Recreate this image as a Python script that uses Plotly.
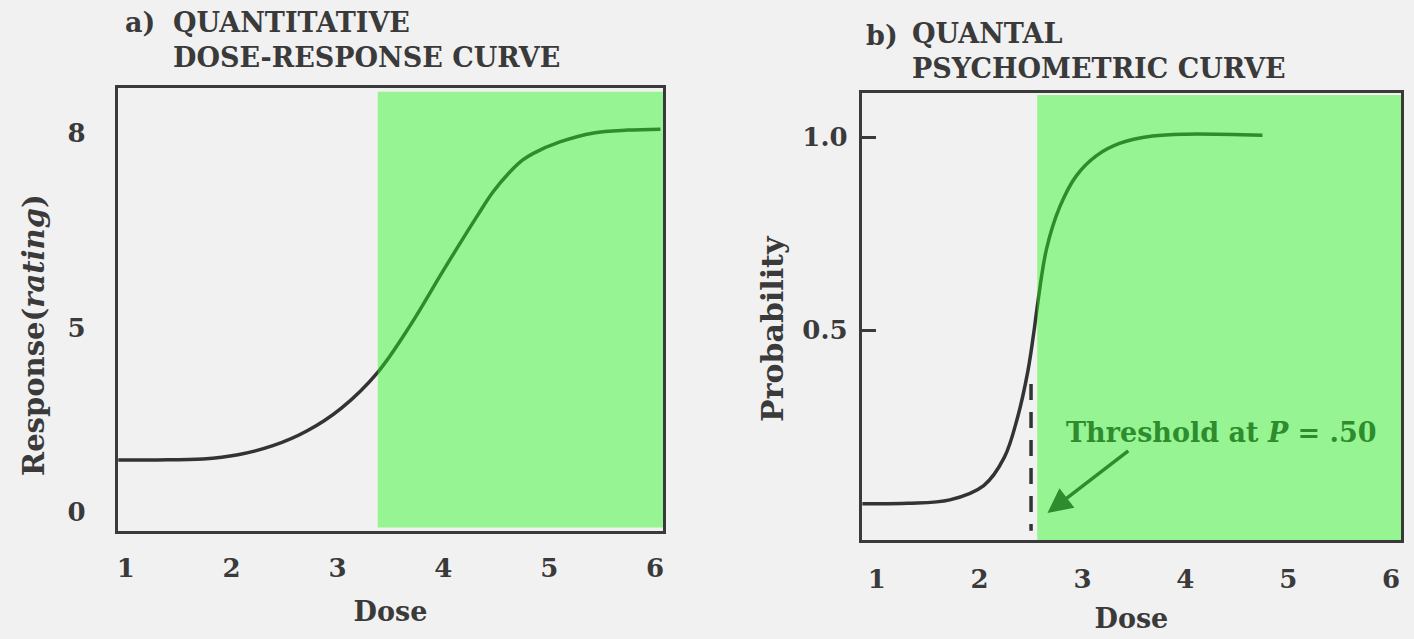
import plotly.graph_objects as go

# ---------------- data ----------------
# Panel a: quantitative dose-response curve (y in axis units; 0..8 span)
dose_a = [0.93, 1.3, 1.73, 2.06, 2.39, 2.71, 3.04, 3.38, 3.69, 4.00, 4.32, 4.47, 4.63, 4.75, 4.85, 5.10, 5.42, 5.74, 6.05]
resp_a = [1.10, 1.10, 1.12, 1.21, 1.40, 1.71, 2.20, 2.95, 3.95, 5.10, 6.25, 6.76, 7.18, 7.43, 7.57, 7.81, 8.00, 8.06, 8.08]

# Panel b: quantal psychometric curve
dose_b = [0.86, 1.3, 1.71, 2.04, 2.24, 2.37, 2.47, 2.53, 2.56, 2.65, 2.78, 2.94, 3.14, 3.36, 3.68, 4.01, 4.75]
prob_b = [0.05, 0.051, 0.06, 0.097, 0.17, 0.275, 0.395, 0.50, 0.56, 0.71, 0.82, 0.90, 0.953, 0.984, 1.003, 1.008, 1.005]

threshold_dose = 2.5
threshold_dash_p = [0.36, -0.02]

shade_start_a = 3.38
shade_start_b = 2.56

xticks = [1, 2, 3, 4, 5, 6]
yticks_a_pos = [0, 3.88, 8]
yticks_a_text = ["0", "5", "8"]
yticks_b_pos = [0.5, 1.0]
yticks_b_text = ["0.5", "1.0"]

arrow_head = (2.66, 0.026)
arrow_tail = (3.46, 0.19)

# ---------------- style ----------------
FONT = "DejaVu Serif"
INK = "#3a3a3a"
BG = "#f1f1f1"
GREEN_TXT = "#2e8c2e"

fig = go.Figure()

fig.add_trace(go.Scatter(x=dose_a, y=resp_a, mode="lines", xaxis="x", yaxis="y",
                         line=dict(color="#333333", width=3.5, shape="spline"),
                         showlegend=False, hoverinfo="skip"))
fig.add_trace(go.Scatter(x=dose_b, y=prob_b, mode="lines", xaxis="x2", yaxis="y2",
                         line=dict(color="#333333", width=3.5, shape="spline"),
                         showlegend=False, hoverinfo="skip"))
fig.add_trace(go.Scatter(x=[threshold_dose, threshold_dose], y=threshold_dash_p, mode="lines",
                         xaxis="x2", yaxis="y2",
                         line=dict(color="#333333", width=3.5, dash="16px,12px"),
                         showlegend=False, hoverinfo="skip"))

tick_font = dict(family=FONT, size=26, color=INK, weight="bold")
label_font = dict(family=FONT, size=27, color=INK, weight="bold")

axis_common = dict(showline=True, mirror=True, linecolor=INK, linewidth=3,
                   showgrid=False, zeroline=False, tickfont=tick_font)

fig.update_layout(
    width=1414, height=639,
    margin=dict(l=0, r=0, t=0, b=0),
    paper_bgcolor=BG, plot_bgcolor=BG,
    font=dict(family=FONT, color=INK),
    xaxis=dict(domain=[0.0827, 0.4689], range=[0.925, 6.075], tickvals=xticks,
               ticks="", ticklabelstandoff=12,
               title=dict(text="Dose", font=label_font, standoff=20),
               **axis_common),
    yaxis=dict(domain=[0.169, 0.862], range=[-0.40, 8.945], tickvals=yticks_a_pos,
               ticktext=yticks_a_text, ticks="", ticklabelstandoff=24,
               **axis_common),
    xaxis2=dict(domain=[0.6096, 0.9915], range=[0.854, 6.097], tickvals=xticks, anchor="y2",
                ticks="", ticklabelstandoff=14,
                title=dict(text="Dose", font=label_font, standoff=16),
                **axis_common),
    yaxis2=dict(domain=[0.155, 0.854], range=[-0.044, 1.114], tickvals=yticks_b_pos,
                ticktext=yticks_b_text, anchor="x2",
                ticks="inside", ticklen=14, tickwidth=3, tickcolor=INK, ticklabelstandoff=6,
                **axis_common),
)

# y-axis titles
ytitle_font = dict(family=FONT, size=29, color=INK, weight="bold")
fig.add_annotation(xref="paper", yref="paper", x=33/1414, y=1-335/639, text="Response(<i>rating</i>)",
                   textangle=-90, showarrow=False, xanchor="center", yanchor="middle", font=ytitle_font)
fig.add_annotation(xref="paper", yref="paper", x=772/1414, y=1-328/639, text="Probability",
                   textangle=-90, showarrow=False, xanchor="center", yanchor="middle",
                   font=dict(family=FONT, size=30, color=INK, weight="bold"))

# green shaded regions (drawn above curves, semi-transparent)
fig.add_shape(type="rect", xref="x", yref="y domain", x0=shade_start_a, x1=6.075, y0=0.008, y1=0.992,
              fillcolor="rgb(40,250,30)", opacity=0.45, line=dict(width=0), layer="above")
fig.add_shape(type="rect", xref="x2", yref="y2 domain", x0=shade_start_b, x1=6.097, y0=0.0, y1=0.996,
              fillcolor="rgb(40,250,30)", opacity=0.45, line=dict(width=0), layer="above")

# panel titles
title_font = dict(family=FONT, size=27, color=INK, weight="bold")
fig.add_annotation(xref="paper", yref="paper", x=122/1414, y=1-22/639, text="a)",
                   showarrow=False, xanchor="left", yanchor="middle", font=title_font)
fig.add_annotation(xref="paper", yref="paper", x=170/1414, y=1-40/639,
                   text="QUANTITATIVE<br>DOSE-RESPONSE CURVE", align="left",
                   showarrow=False, xanchor="left", yanchor="middle", font=title_font)
fig.add_annotation(xref="paper", yref="paper", x=864/1414, y=1-35/639, text="b)",
                   showarrow=False, xanchor="left", yanchor="middle", font=title_font)
fig.add_annotation(xref="paper", yref="paper", x=910/1414, y=1-51/639,
                   text="QUANTAL<br>PSYCHOMETRIC CURVE", align="left",
                   showarrow=False, xanchor="left", yanchor="middle", font=title_font)

# threshold label + arrow
fig.add_annotation(xref="x2", yref="y2", x=4.35, y=0.235, text="Threshold at <i>P</i> = .50",
                   showarrow=False, font=dict(family=FONT, size=27, color=GREEN_TXT, weight="bold"))
fig.add_annotation(xref="x2", yref="y2", axref="x2", ayref="y2",
                   x=arrow_head[0], y=arrow_head[1], ax=arrow_tail[0], ay=arrow_tail[1],
                   text="", showarrow=True, arrowhead=2, arrowsize=1.4, arrowwidth=3.5,
                   arrowcolor=GREEN_TXT)

fig.write_html("out.html", config={"displayModeBar": False},
               post_script="document.body.style.margin='0';document.body.style.background='%s';" % BG)
